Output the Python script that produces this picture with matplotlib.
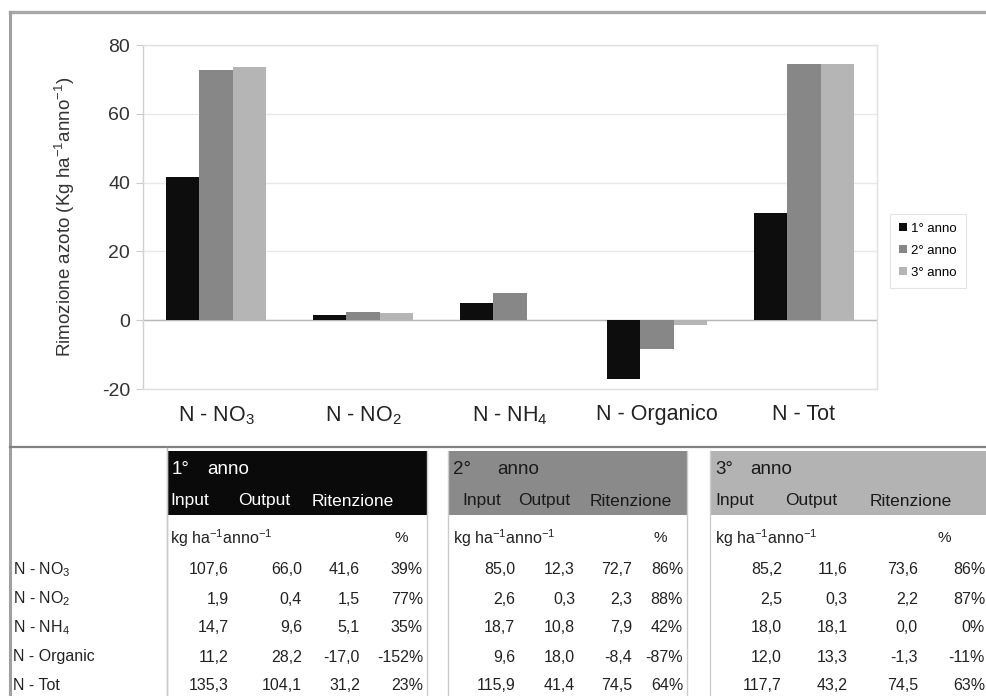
import matplotlib
matplotlib.use("Agg")
import matplotlib.pyplot as plt
from matplotlib.patches import Rectangle
from matplotlib.lines import Line2D
import numpy as np

plt.rcParams['font.family'] = ['Liberation Sans', 'DejaVu Sans']
plt.rcParams['mathtext.fontset'] = 'custom'
plt.rcParams['mathtext.rm'] = 'Liberation Sans'
plt.rcParams['mathtext.it'] = 'Liberation Sans:italic'
plt.rcParams['mathtext.default'] = 'regular'

# ---------------- data ----------------
categories = ["N - NO$_3$", "N - NO$_2$", "N - NH$_4$", "N - Organico", "N - Tot"]
row_labels = ["N - NO$_3$", "N - NO$_2$", "N - NH$_4$", "N - Organic", "N - Tot"]
series_names = ["1° anno", "2° anno", "3° anno"]

input_y1 = [107.6, 1.9, 14.7, 11.2, 135.3]
output_y1 = [66.0, 0.4, 9.6, 28.2, 104.1]
ret_y1 = [41.6, 1.5, 5.1, -17.0, 31.2]
pct_y1 = ["39%", "77%", "35%", "-152%", "23%"]

input_y2 = [85.0, 2.6, 18.7, 9.6, 115.9]
output_y2 = [12.3, 0.3, 10.8, 18.0, 41.4]
ret_y2 = [72.7, 2.3, 7.9, -8.4, 74.5]
pct_y2 = ["86%", "88%", "42%", "-87%", "64%"]

input_y3 = [85.2, 2.5, 18.0, 12.0, 117.7]
output_y3 = [11.6, 0.3, 18.1, 13.3, 43.2]
ret_y3 = [73.6, 2.2, 0.0, -1.3, 74.5]
pct_y3 = ["86%", "87%", "0%", "-11%", "63%"]

yticks = [-20, 0, 20, 40, 60, 80]

# ---------------- figure ----------------
W, H = 987, 696
fig = plt.figure(figsize=(W / 100, H / 100), dpi=100)

# overlay axes in pixel coordinates for frame + table
tax = fig.add_axes([0, 0, 1, 1], zorder=0)
tax.set_xlim(0, W)
tax.set_ylim(H, 0)
tax.axis("off")

# chart axes
ax = fig.add_axes([142.5 / W, (H - 389) / H, 735 / W, 344 / H], zorder=2)
bar_colors = ["#0d0d0d", "#878787", "#b5b5b5"]
x = np.arange(len(categories))
bw = 0.2245
for i, (vals, c) in enumerate(zip([ret_y1, ret_y2, ret_y3], bar_colors)):
    ax.bar(x + (i - 1) * bw, vals, width=bw, color=c, label=series_names[i],
           zorder=3, linewidth=0)

ax.set_xlim(-0.5, len(categories) - 0.5)
ax.set_ylim(-20, 80)
ax.set_yticks(yticks)
ax.set_yticklabels([str(v) for v in yticks], fontsize=14, color="#333333")
ax.set_xticks(x)
ax.set_xticklabels(categories, fontsize=15.5, color="#222222")
ax.tick_params(axis="x", length=0, pad=11)
ax.tick_params(axis="y", length=5, color="#cccccc", pad=4)
ax.yaxis.grid(True, color="#e8e8e8", linewidth=1.0, zorder=0)
ax.set_axisbelow(True)
ax.axhline(0, color="#b8b8b8", linewidth=1.0, zorder=2)
for s in ax.spines.values():
    s.set_color("#e0e0e0")
    s.set_linewidth(1.0)
ax.spines["left"].set_color("#d0d0d0")
ax.set_ylabel("Rimozione azoto (Kg ha$^{-1}$anno$^{-1}$)", fontsize=13.5,
              color="#333333", labelpad=18)

leg = fig.legend(loc="upper left", bbox_to_anchor=(883 / W, 1 - 207 / H),
                 fontsize=9.5, frameon=True, fancybox=False, handlelength=0.6,
                 handleheight=0.6, handletextpad=0.3, labelspacing=0.75,
                 borderpad=0.7, edgecolor="#dddddd")
leg.get_frame().set_linewidth(0.8)

# ---------------- outer frame ----------------
tax.add_line(Line2D([10, W], [12, 12], color="#a8a8a8", lw=2.4))
tax.add_line(Line2D([10, 10], [12, H], color="#a0a0a0", lw=2.2))
tax.add_line(Line2D([10, W], [447, 447], color="#808080", lw=1.6))
tax.add_line(Line2D([167, 167], [448, H], color="#bbbbbb", lw=1.0))

# ---------------- table ----------------
row_y = [570, 599, 628, 657, 686]
fs_val = 11.5
txt_c = "#222222"

for lab, yy in zip(row_labels, row_y):
    tax.text(13, yy, lab, fontsize=11.5, color=txt_c, va="center", ha="left")


def fmt(v):
    return f"{v:.1f}".replace(".", ",")


blocks = [
    dict(x0=167, x1=427, face="#0a0a0a", tc="white", name=series_names[0],
         num_x=172, anno_x=207, hdr_x=[170, 238, 312], pct_x=401,
         col_x=[229, 302, 360, 423], unit_x=170,
         data=(input_y1, output_y1, ret_y1, pct_y1)),
    dict(x0=448, x1=687, face="#8a8a8a", tc="#1a1a1a", name=series_names[1],
         num_x=453, anno_x=497, hdr_x=[462, 518, 590], pct_x=660,
         col_x=[515, 575, 632, 683], unit_x=453,
         data=(input_y2, output_y2, ret_y2, pct_y2)),
    dict(x0=710, x1=W + 5, face="#b3b3b3", tc="#1a1a1a", name=series_names[2],
         num_x=715, anno_x=750, hdr_x=[715, 785, 870], pct_x=944,
         col_x=[782, 848, 918, 985], unit_x=715,
         data=(input_y3, output_y3, ret_y3, pct_y3)),
]

for b in blocks:
    tax.add_patch(Rectangle((b["x0"], 451), b["x1"] - b["x0"], 64,
                            facecolor=b["face"], edgecolor="none"))
    tax.add_line(Line2D([b["x0"], b["x0"]], [451, H], color="#cccccc", lw=1.0))
    tax.add_line(Line2D([b["x1"], b["x1"]], [451, H], color="#cccccc", lw=1.0))
    num, anno = b["name"].split(" ")
    tax.text(b["num_x"], 469, num, fontsize=13.5, color=b["tc"], va="center")
    tax.text(b["anno_x"], 469, anno, fontsize=13.5, color=b["tc"], va="center")
    for h, hx in zip(["Input", "Output", "Ritenzione"], b["hdr_x"]):
        tax.text(hx, 501, h, fontsize=12.5, color=b["tc"], va="center")
    tax.text(b["unit_x"], 538, "kg ha$^{-1}$anno$^{-1}$", fontsize=11.5,
             color=txt_c, va="center")
    tax.text(b["pct_x"], 538, "%", fontsize=11, color=txt_c, va="center",
             ha="center")
    inp, out, ret, pct = b["data"]
    for k, yy in enumerate(row_y):
        vals = [fmt(inp[k]), fmt(out[k]), fmt(ret[k]), pct[k]]
        for v, cx in zip(vals, b["col_x"]):
            tax.text(cx, yy, v, fontsize=fs_val, color=txt_c, va="center",
                     ha="right")

fig.savefig("out.png", dpi=100)
